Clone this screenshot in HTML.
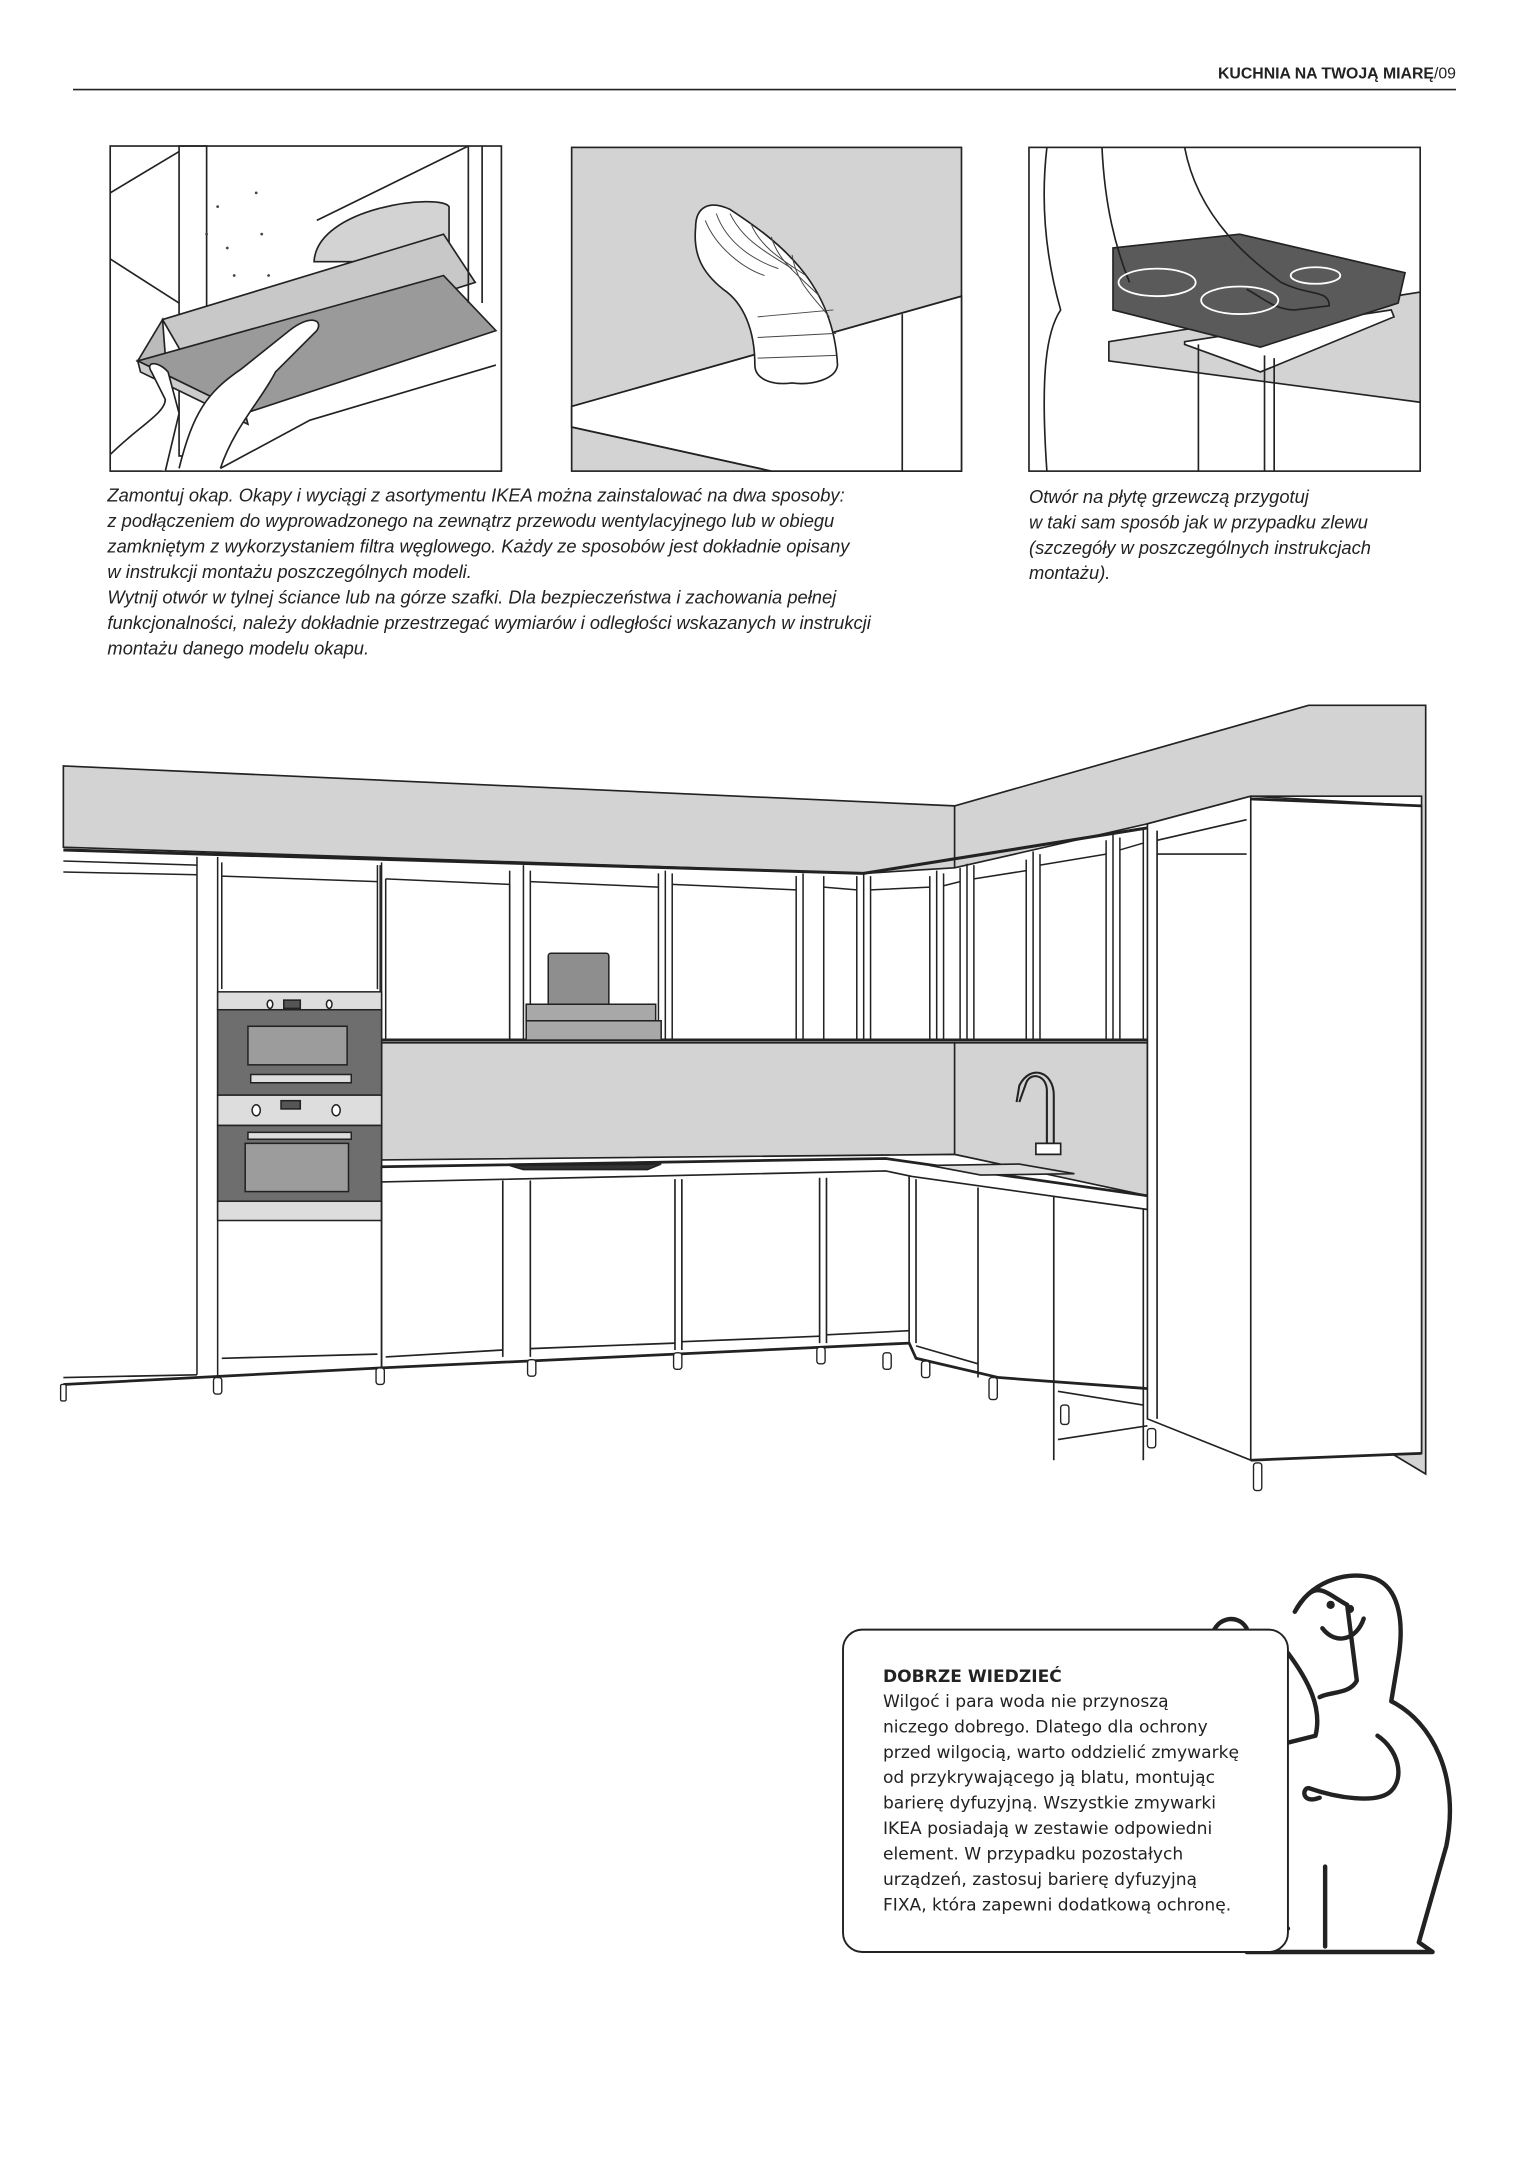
<!DOCTYPE html>
<html><head><meta charset="utf-8"><style>
html,body{margin:0;padding:0;background:#fff}
svg{display:block}
.cap{font-family:"Liberation Sans","DejaVu Sans",sans-serif;font-style:italic;font-size:13.3px;fill:#222}
.box{font-family:"DejaVu Sans","Liberation Sans",sans-serif;font-size:12.4px;fill:#222}
</style></head><body>
<svg width="1529" height="2160" viewBox="0 0 1110 1568" preserveAspectRatio="none" xmlns="http://www.w3.org/2000/svg">
<g fill="none" stroke="#222" stroke-width="1.2">
<line x1="53" y1="65" x2="1057" y2="65" stroke-width="1.2"/>
</g>
<text x="1057" y="57" text-anchor="end" font-family="Liberation Sans,DejaVu Sans,sans-serif" font-size="11.5" fill="#222"><tspan font-weight="bold">KUCHNIA NA TWOJĄ MIARĘ</tspan>/09</text>

<!-- Panel 1 -->
<g stroke="#222" stroke-width="1.2" fill="none">
<rect x="80" y="106" width="284" height="236" fill="#fff"/>
<polyline points="80,140 130,110"/><polyline points="80,188 130,220"/>
<rect x="130" y="106" width="20" height="225"/>
<line x1="230" y1="160" x2="340" y2="106"/>
<path d="M228,190 C230,150 320,140 326,150 L326,190 Z" fill="#d3d3d3"/>
<polygon points="118,232 322,170 345,205 140,270" fill="#c8c8c8"/>
<polygon points="100,262 118,232 120,258" fill="#bbb"/>
<polygon points="100,262 322,200 360,240 178,300" fill="#9a9a9a"/>
<polygon points="100,262 178,300 180,308 102,270" fill="#ccc"/>
<line x1="340" y1="106" x2="340" y2="220"/><line x1="350" y1="106" x2="350" y2="220"/>
<polyline points="160,340 225,305 360,265"/>
<path d="M130,340 C140,300 150,285 175,268 L210,240 C225,228 235,232 230,240 L200,270 C190,290 170,310 160,340" fill="#fff"/>
<path d="M80,330 C100,310 120,300 120,290 L110,270 C105,262 115,262 122,270 L130,300 L120,342" fill="#fff"/>
</g>
<g fill="#444"><circle cx="158" cy="150" r="1"/><circle cx="165" cy="180" r="1"/><circle cx="170" cy="200" r="1"/><circle cx="186" cy="140" r="1"/><circle cx="190" cy="170" r="1"/><circle cx="195" cy="200" r="1"/><circle cx="150" cy="170" r="1"/></g>

<!-- Panel 2 -->
<g stroke="#222" stroke-width="1.2">
<rect x="415" y="107" width="283" height="235" fill="#d3d3d3"/>
<polygon points="415,295 698,215 698,342 560,342 415,310" fill="#fff"/>
<polyline points="415,295 698,215" fill="none"/>
<polyline points="415,310 560,342" fill="none"/>
<line x1="655" y1="228" x2="655" y2="342"/>
<path d="M505,165 C505,150 515,145 530,152 C565,175 605,205 608,265 C607,275 590,280 575,278 C560,280 548,275 548,265 C548,240 540,220 525,210 C510,198 503,185 505,165 Z" fill="#fff"/>
</g>
<g stroke="#444" stroke-width="0.7" fill="none">
<path d="M512,160 C520,180 540,195 555,200"/><path d="M520,155 C528,178 550,190 565,195"/><path d="M530,155 C540,176 560,185 575,195"/><path d="M545,162 C552,180 570,190 585,200"/><path d="M560,172 C565,190 580,200 595,215"/><path d="M575,185 C578,205 590,215 602,230"/><path d="M550,230 L605,225"/><path d="M550,245 L607,242"/><path d="M550,260 L607,258"/>
</g>

<!-- Panel 3 -->
<g stroke="#222" stroke-width="1.2">
<rect x="747" y="107" width="284" height="235" fill="#fff"/>
<polygon points="805,248 1031,212 1031,292 805,262" fill="#d3d3d3"/>
<polygon points="860,248 1010,225 1012,230 915,270 860,250" fill="#fff"/>
<polygon points="808,180 900,170 1020,198 1015,220 915,252 808,225" fill="#5a5a5a"/>
<line x1="870" y1="250" x2="870" y2="342"/><line x1="918" y1="258" x2="918" y2="342"/><line x1="925" y1="260" x2="925" y2="342"/>
<path d="M760,107 C755,150 760,190 770,225 C760,240 755,270 760,342 M800,107 C802,150 810,180 820,205" fill="none"/>
<path d="M860,107 C870,160 910,190 930,205 C950,215 965,210 965,222 L940,225 C925,225 915,215 905,210" fill="none"/>
</g>
<g stroke="#fff" stroke-width="1.3" fill="none"><ellipse cx="840" cy="205" rx="28" ry="10"/><ellipse cx="900" cy="218" rx="28" ry="10"/><ellipse cx="955" cy="200" rx="18" ry="6"/></g>

<!-- captions -->
<g class="cap">
<text x="78" y="364">Zamontuj okap. Okapy i wyciągi z asortymentu IKEA można zainstalować na dwa sposoby:</text>
<text x="78" y="382.5">z podłączeniem do wyprowadzonego na zewnątrz przewodu wentylacyjnego lub w obiegu</text>
<text x="78" y="401">zamkniętym z wykorzystaniem filtra węglowego. Każdy ze sposobów jest dokładnie opisany</text>
<text x="78" y="419.5">w instrukcji montażu poszczególnych modeli.</text>
<text x="78" y="438">Wytnij otwór w tylnej ściance lub na górze szafki. Dla bezpieczeństwa i zachowania pełnej</text>
<text x="78" y="456.5">funkcjonalności, należy dokładnie przestrzegać wymiarów i odległości wskazanych w instrukcji</text>
<text x="78" y="475">montażu danego modelu okapu.</text>
<text x="747" y="365">Otwór na płytę grzewczą przygotuj</text>
<text x="747" y="383.5">w taki sam sposób jak w przypadku zlewu</text>
<text x="747" y="402">(szczegóły w poszczególnych instrukcjach</text>
<text x="747" y="420.5">montażu).</text>
</g>

<!-- Kitchen -->
<g stroke="#222" stroke-width="1.2">
<polygon points="46,556 693,585 950,512 1035,512 1035,1070 1010,1055 1032,1055 1032,578 908,578 833,598 693,630 627,634 46,615" fill="#d3d3d3"/>
<line x1="693" y1="585" x2="693" y2="630"/>
<polygon points="277,757 693,757 833,757 833,868 693,838 277,842" fill="#d3d3d3"/>
<line x1="693" y1="757" x2="693" y2="838"/>
<polyline points="46,617 627,634 833,601" fill="none" stroke-width="2.2"/>
<line x1="277" y1="755" x2="833" y2="755" stroke-width="2.2"/>
</g>
<g stroke="#222" stroke-width="1.1" fill="none">
<path d="M143,622 V998 M158,622 V1000 M277,626 V993 M380,628 V755 M483,632 V755 M583,634 V755 M627,634 V755 M680,632 V755 M702,627 V755 M750,618 V755 M808,606 V755 M830,601 V755"/>
<path d="M161,626 V718 M274,628 V718 M276,628 V755 M370,632 V755 M385,632 V755 M478,634 V755 M488,634 V755 M578,636 V755 M598,636 V755 M622,636 V755 M632,636 V755 M675,636 V755 M685,634 V755 M697,630 V755 M707,628 V755 M745,624 V755 M755,620 V755 M803,610 V755 M813,608 V755"/>
<path d="M46,625 L143,628 M161,636 L274,640 M280,638 L370,642 M385,640 L478,644 M488,642 L578,646 M598,644 L622,646 M632,646 L675,644 M685,643 L697,640 M707,638 L745,632 M755,628 L803,620 M813,617 L830,612"/>
<path d="M280,638 V755 M370,642 V755 M46,633 L143,635"/>
</g>
<g stroke="#222" stroke-width="1.1">
<rect x="158" y="720" width="119" height="13" fill="#ddd"/>
<rect x="158" y="733" width="119" height="62" fill="#6e6e6e"/>
<rect x="180" y="745" width="72" height="28" fill="#9c9c9c"/>
<rect x="182" y="780" width="73" height="6" fill="#ddd"/>
<rect x="158" y="795" width="119" height="22" fill="#ddd"/>
<rect x="158" y="817" width="119" height="55" fill="#6e6e6e"/>
<rect x="178" y="830" width="75" height="35" fill="#9c9c9c"/>
<rect x="180" y="822" width="75" height="5" fill="#ddd"/>
<rect x="158" y="872" width="119" height="14" fill="#ddd"/>
<rect x="206" y="726" width="12" height="6" fill="#555"/>
<rect x="204" y="799" width="14" height="6" fill="#555"/>
<ellipse cx="196" cy="729" rx="2" ry="3" fill="#fff"/><ellipse cx="239" cy="729" rx="2" ry="3" fill="#fff"/>
<ellipse cx="186" cy="806" rx="3" ry="4" fill="#fff"/><ellipse cx="244" cy="806" rx="3" ry="4" fill="#fff"/>
<rect x="398" y="692" width="44" height="38" rx="2" fill="#8e8e8e"/>
<rect x="382" y="729" width="94" height="12" fill="#a8a8a8"/>
<rect x="382" y="741" width="98" height="14" fill="#a8a8a8"/>
</g>
<g stroke="#222" stroke-width="1.2" fill="none">
<polygon points="277,847 643,841 833,868 833,878 662,854 643,850 277,858" fill="#fff"/>
<polyline points="277,847 643,841 833,868" stroke-width="2"/>
<polygon points="370,846 480,845 470,849 380,849" fill="#333"/>
<polygon points="675,846 740,845 780,852 712,853" fill="#ddd"/>
<path d="M760,832 L760,792 C760,780 748,778 745,786 L740,800 M765,832 L765,795 C765,778 748,772 740,788 L738,800" stroke-width="1.5"/>
<path d="M752,830 h18 v8 h-18 z" fill="#fff"/>
<polyline points="46,1005 277,993 660,975 665,986 725,1000 833,1008" stroke-width="2"/>
<path d="M277,858 V993 M365,857 V985 M385,857 V985 M490,856 V980 M495,856 V980 M595,855 V975 M600,855 V975 M660,854 V975 M665,856 V975 M710,862 V1000 M765,868 V1060 M830,878 V1060"/>
<path d="M280,985 L365,980 M385,979 L490,975 M495,974 L595,970 M600,969 L660,966 M665,977 L710,990 M768,1010 L830,1020 M768,1045 L833,1035 M833,1030 L908,1028"/>
<path d="M46,1000 L143,998 M161,986 L274,983"/>
<polygon points="833,598 908,578 1032,585 1032,1055 908,1060 833,1030" fill="#fff"/>
<line x1="908" y1="578" x2="908" y2="1060"/>
<line x1="840" y1="603" x2="840" y2="1030"/>
<polyline points="840,610 905,595"/><polyline points="840,620 905,620"/>
<polyline points="908,580 1032,585" stroke-width="2"/>
<polyline points="908,1060 1032,1055" stroke-width="2"/>
</g>
<g stroke="#222" stroke-width="1" fill="#fff">
<rect x="155" y="1000" width="6" height="12" rx="2"/><rect x="273" y="993" width="6" height="12" rx="2"/><rect x="383" y="987" width="6" height="12" rx="2"/><rect x="489" y="982" width="6" height="12" rx="2"/><rect x="593" y="978" width="6" height="12" rx="2"/><rect x="641" y="982" width="6" height="12" rx="2"/><rect x="669" y="988" width="6" height="12" rx="2"/><rect x="718" y="1000" width="6" height="16" rx="2"/><rect x="770" y="1020" width="6" height="14" rx="2"/><rect x="833" y="1037" width="6" height="14" rx="2"/><rect x="910" y="1062" width="6" height="20" rx="2"/><rect x="44" y="1005" width="4" height="12" rx="1"/>
</g>

<!-- figure -->
<g stroke="#222" stroke-width="3.2" fill="#fff" stroke-linecap="round" stroke-linejoin="round">
<path d="M935,1200 C950,1220 960,1240 955,1260 L935,1265 M958,1232 C965,1228 980,1230 985,1220 L978,1165 C960,1155 955,1145 940,1170 C950,1150 975,1140 995,1145 C1015,1150 1020,1175 1015,1205 L1010,1235 C1040,1250 1060,1290 1050,1340 L1030,1410 L1040,1417 L905,1417 L915,1400 L935,1400" fill="none"/>
<path d="M1000,1260 C1015,1270 1020,1290 1010,1300 C1000,1310 970,1305 950,1298 C945,1298 945,1310 958,1305" fill="none"/>
<line x1="962" y1="1355" x2="962" y2="1413"/>
<path d="M880,1190 C880,1175 898,1170 905,1182 M878,1185 L880,1195 M888,1185 L888,1195 M896,1185 L896,1193" fill="none"/>
<path d="M960,1182 C970,1195 985,1190 990,1175" fill="none"/>
</g>
<circle cx="966" cy="1165" r="3" fill="#222"/><circle cx="980" cy="1168" r="3" fill="#222"/>
<rect x="612" y="1183" width="323" height="234" rx="14" fill="#fff" stroke="#222" stroke-width="1.4"/>
<g class="box">
<text x="641" y="1221" font-weight="bold">DOBRZE WIEDZIEĆ</text>
<text x="641" y="1239">Wilgoć i para woda nie przynoszą</text>
<text x="641" y="1257.5">niczego dobrego. Dlatego dla ochrony</text>
<text x="641" y="1276">przed wilgocią, warto oddzielić zmywarkę</text>
<text x="641" y="1294.5">od przykrywającego ją blatu, montując</text>
<text x="641" y="1313">barierę dyfuzyjną. Wszystkie zmywarki</text>
<text x="641" y="1331.5">IKEA posiadają w zestawie odpowiedni</text>
<text x="641" y="1350">element. W przypadku pozostałych</text>
<text x="641" y="1368.5">urządzeń, zastosuj barierę dyfuzyjną</text>
<text x="641" y="1387">FIXA, która zapewni dodatkową ochronę.</text>
</g>
</svg>
</body></html>
